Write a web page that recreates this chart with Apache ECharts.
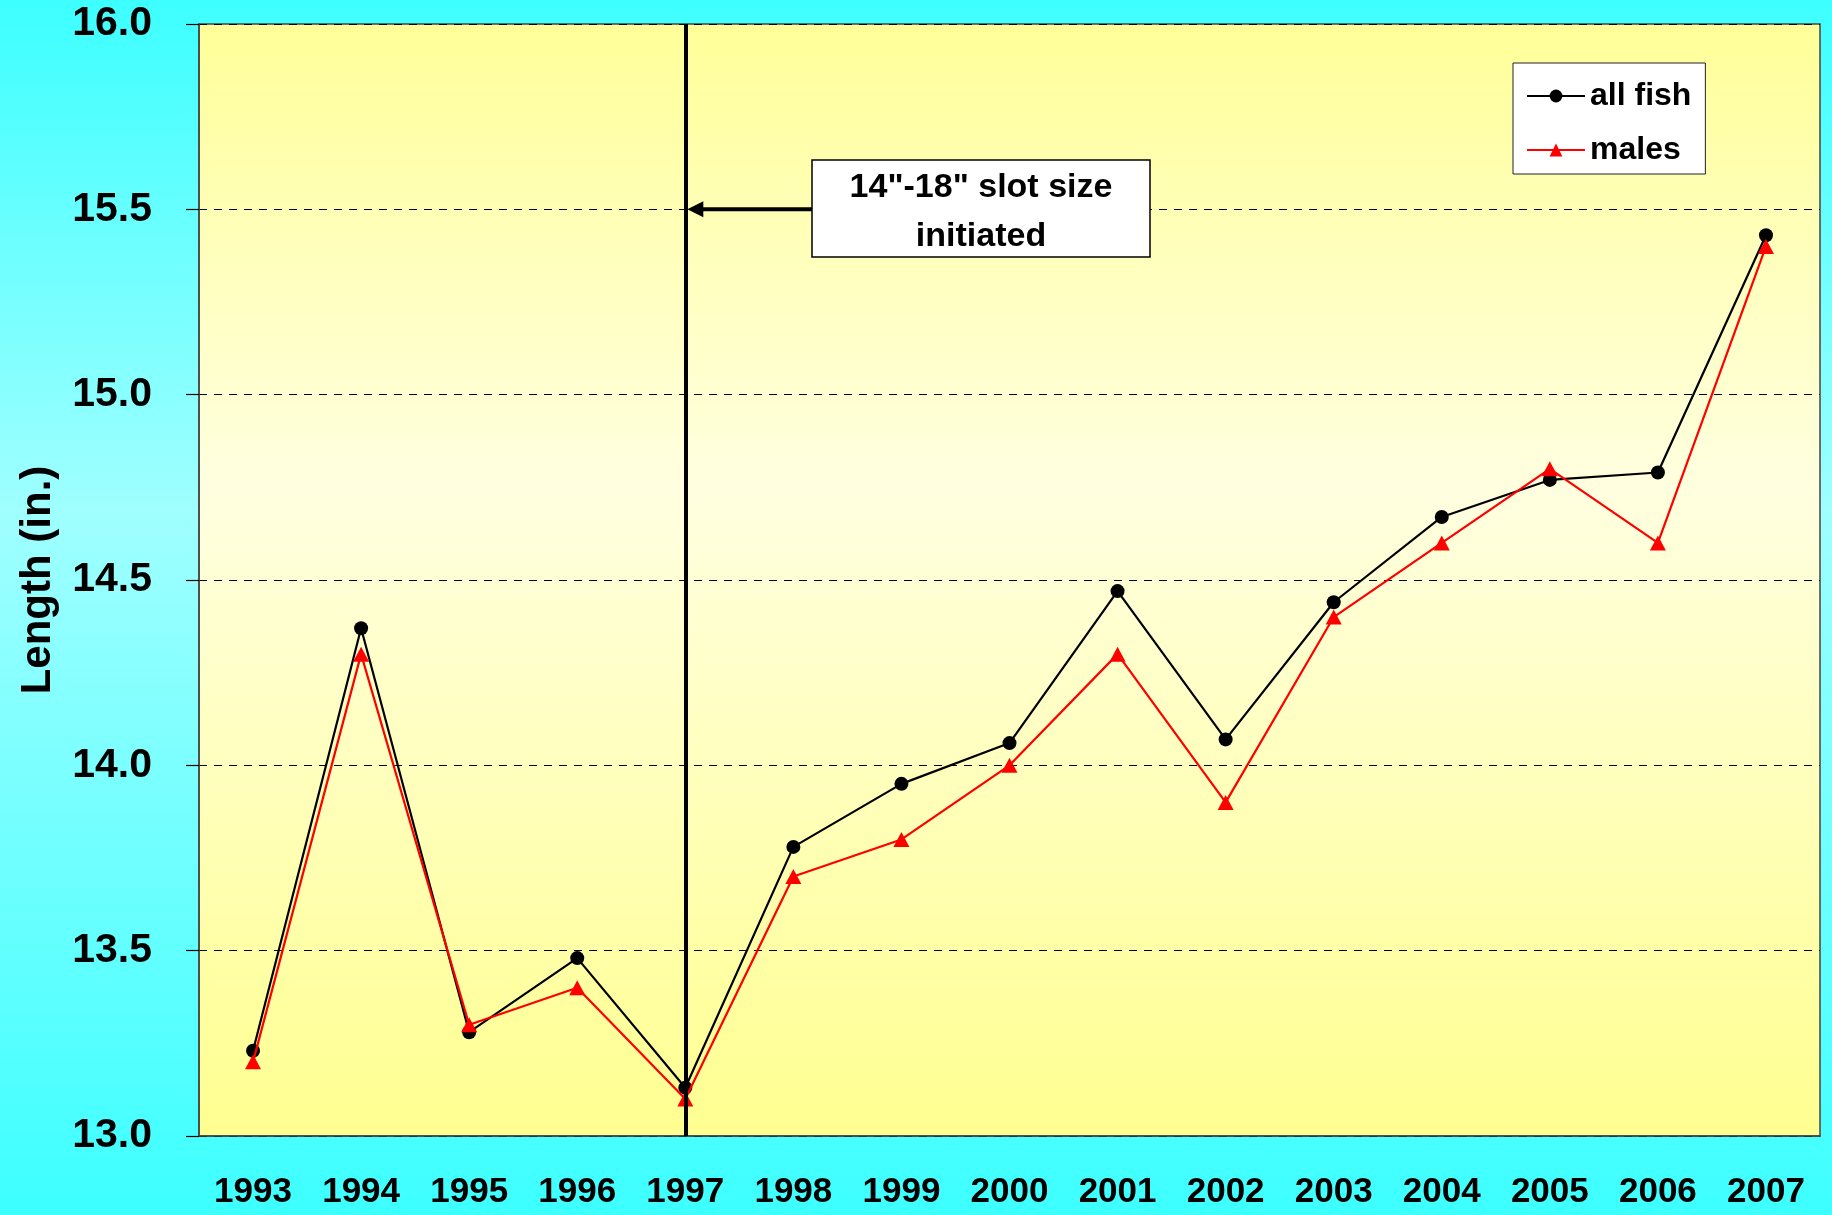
<!DOCTYPE html>
<html>
<head>
<meta charset="utf-8">
<script src="https://cdn.jsdelivr.net/npm/echarts@6/dist/echarts.min.js"></script>
<style>
html,body{margin:0;padding:0;}
body{width:1832px;height:1215px;background:linear-gradient(to bottom,#3dffff 0%,#a0ffff 42%,#3dffff 100%);}
#c{width:1832px;height:1215px;}
</style>
</head>
<body>
<div id="c"></div>
<script>
const years = ['1993','1994','1995','1996','1997','1998','1999','2000','2001','2002','2003','2004','2005','2006','2007'];
const allFish = [13.23,14.37,13.28,13.48,13.13,13.78,13.95,14.06,14.47,14.07,14.44,14.67,14.77,14.79,15.43];
const males = [13.2,14.3,13.3,13.4,13.1,13.7,13.8,14.0,14.3,13.9,14.4,14.6,14.8,14.6,15.4];
const seriesNames = ['all fish','males'];
const yTicks = {min:13.0, max:16.0, interval:0.5};
const slotYear = '1997';
const slotLabel = '14"-18" slot size\ninitiated';
const arrowValue = 15.5;

const FONT = '"Liberation Sans", Arial, sans-serif';
const chart = echarts.init(document.getElementById('c'), null, {renderer:'canvas'});
chart.setOption({
  animation:false,
  backgroundColor:'transparent',
  grid:{left:199, right:12, top:24, bottom:79, containLabel:false, outerBoundsMode:'none',
    show:true, borderColor:'#444', borderWidth:1.5,
    backgroundColor:{type:'linear',x:0,y:0,x2:0,y2:1,colorStops:[
      {offset:0,color:'#ffff99'},{offset:0.42,color:'#ffffe0'},{offset:1,color:'#ffff90'}]}},
  legend:{
    left:1513, top:63, orient:'vertical', backgroundColor:'#fff', borderColor:'#222', borderWidth:1,
    padding:[17,14,8,13], itemWidth:58, itemHeight:16, itemGap:22,
    textStyle:{fontFamily:FONT, fontWeight:'bold', fontSize:32, color:'#000'},
    data:seriesNames
  },
  xAxis:{type:'category', data:years, boundaryGap:true,
    axisLine:{show:true, lineStyle:{color:'#444', width:1.5}},
    axisTick:{show:false},
    axisLabel:{margin:39, fontFamily:FONT, fontWeight:'bold', fontSize:35, color:'#000', interval:0},
    splitLine:{show:false}},
  yAxis:{type:'value', min:yTicks.min, max:yTicks.max, interval:yTicks.interval,
    name:'Length (in.)', nameLocation:'middle', nameRotate:90, nameGap:140,
    nameTextStyle:{fontFamily:FONT, fontWeight:'bold', fontSize:42, color:'#000'},
    axisLine:{show:true, lineStyle:{color:'#444', width:1.5}},
    axisTick:{show:true, inside:false, length:13, lineStyle:{color:'#000', width:1.2}},
    axisLabel:{margin:47, fontFamily:FONT, fontWeight:'bold', fontSize:41, color:'#000',
      formatter:v=>v.toFixed(1)},
    splitLine:{show:true, lineStyle:{color:'#000', width:1, type:[8,7]}}},
  series:[
    {name:seriesNames[0], type:'line', data:allFish, symbol:'circle', symbolSize:14,
      lineStyle:{color:'#000', width:2.2}, itemStyle:{color:'#000'}, z:3,
      markLine:{silent:true, symbol:['none','none'], label:{show:false},
        lineStyle:{color:'#000', width:4, type:'solid'},
        data:[{xAxis:slotYear}]}},
    {name:seriesNames[1], type:'line', data:males, symbol:'triangle', symbolSize:[16,15],
      lineStyle:{color:'#ff0000', width:2.2}, itemStyle:{color:'#ff0000'}, z:4}
  ]
});

const p = chart.convertToPixel({xAxisIndex:0, yAxisIndex:0}, [slotYear, arrowValue]);
const bx = 812, by = 160, bw = 338, bh = 97;
chart.setOption({
  graphic:[
    {type:'line', shape:{x1:p[0]+14, y1:p[1], x2:bx, y2:p[1]}, style:{stroke:'#000', lineWidth:4}, z:100},
    {type:'polygon', shape:{points:[[p[0]+2,p[1]],[p[0]+18,p[1]-8],[p[0]+18,p[1]+8]]}, style:{fill:'#000'}, z:100},
    {type:'rect', shape:{x:bx, y:by, width:bw, height:bh}, style:{fill:'#fff', stroke:'#000', lineWidth:1.5}, z:100},
    {type:'text', x:bx+bw/2, y:by+bh/2+4, z:101,
      style:{text:slotLabel, fontFamily:FONT, fontWeight:'bold', fontSize:34, lineHeight:49,
        fill:'#000', align:'center', verticalAlign:'middle'}}
  ]
});
</script>
</body>
</html>
